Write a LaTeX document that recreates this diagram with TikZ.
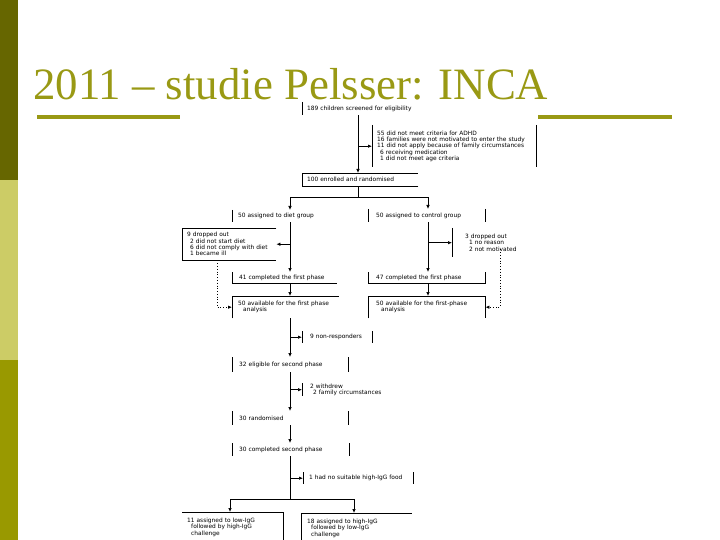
\documentclass[tikz,border=0pt]{standalone}
\usepackage{fontspec}
\setmainfont{Liberation Serif}
\newfontfamily\flowsans{DejaVu Sans}
\usetikzlibrary{arrows.meta}
\definecolor{olivedark}{RGB}{102,102,0}
\definecolor{olivelight}{RGB}{204,204,102}
\definecolor{olivemid}{RGB}{153,153,0}
\definecolor{titleolive}{RGB}{153,153,20}
\newcommand{\flowfont}{\flowsans\fontsize{5.9}{6.3}\selectfont}
\tikzset{
  fbox/.style={inner xsep=5bp, inner ysep=0pt, anchor=north west, align=left, font=\flowfont},
  bd/.style={line width=0.8bp, black},
  arr/.style={line width=0.7bp, black, -{Latex[length=4bp,width=3.5bp]}},
  dotarr/.style={line width=0.8bp, black, dotted, -{Latex[length=4bp,width=3.5bp]}},
}
\begin{document}
\begin{tikzpicture}[x=1bp,y=-1bp]
\useasboundingbox (0,0) rectangle (720,540);
% side bar
\fill[olivedark] (0,0) rectangle (18,180);
\fill[olivelight] (0,180) rectangle (18,360);
\fill[olivemid] (0,360) rectangle (18,540);
% title
\node[anchor=base west, inner sep=0pt, text depth=0pt, text=titleolive, font=\fontsize{45}{48}\selectfont] (title) at (33,100) {2011 -- studie Pelsser: INCA};
\draw[titleolive, line width=3.5bp] (37,117) -- (180,117);
\draw[titleolive, line width=3.5bp] (538,117) -- (672,117);

% trunk coordinates
\coordinate (tM) at (358,0);
\coordinate (tL) at (290,0);
\coordinate (tR) at (428,0);
\coordinate (dL) at (217,0);
\coordinate (dR) at (500,0);
\coordinate (bL) at (230,0);
\coordinate (bR) at (354,0);
\coordinate (s1) at (0,197);
\coordinate (s2) at (0,499);

% boxes
\node[fbox, text width=108bp, minimum height=13bp] (A) at (302,102) {189 children screened for eligibility};
\node[fbox, text width=154bp, minimum height=42bp] (B) at (372,125) {55 did not meet criteria for ADHD\\16 families were not motivated to enter the study\\11 did not apply because of family circumstances\\\hspace*{3bp}6 receiving medication\\\hspace*{3bp}1 did not meet age criteria};
\node[fbox, text width=106bp, minimum height=13bp] (C) at (302,173) {100 enrolled and randomised};
\node[fbox, inner xsep=6bp, text width=104bp, minimum height=12bp] (D) at (232,210) {50 assigned to diet group};
\node[fbox, inner xsep=8bp, text width=101bp, minimum height=13bp] (E) at (368,209) {50 assigned to control group};
\node[fbox, text width=84bp, minimum height=32bp] (F) at (182,228) {9 dropped out\\\hspace*{3bp}2 did not start diet\\\hspace*{3bp}6 did not comply with diet\\\hspace*{3bp}1 became ill};
\node[fbox, inner xsep=13bp, text width=56bp, minimum height=29bp] (G) at (452,228) {3 dropped out\\\hspace*{4bp}1 no reason\\\hspace*{4bp}2 not motivated};
\node[fbox, inner xsep=7bp, text width=91bp, minimum height=11bp] (H) at (232,272) {41 completed the first phase};
\node[fbox, inner xsep=8bp, text width=101bp, minimum height=11bp] (I) at (368,272) {47 completed the first phase};
\node[fbox, inner xsep=6bp, text width=95bp, minimum height=22bp] (J) at (232,296) {50 available for the first phase\\\hspace*{5bp}analysis};
\node[fbox, inner xsep=8bp, text width=101bp, minimum height=22bp] (K) at (368,296) {50 available for the first-phase\\\hspace*{5bp}analysis};
\node[fbox, inner xsep=8bp, text width=54bp, minimum height=12bp] (L) at (302,331) {9 non-responders};
\node[fbox, inner xsep=7bp, text width=102bp, minimum height=15bp] (M) at (232,357) {32 eligible for second phase};
\node[fbox, inner xsep=8bp, text width=84bp, minimum height=13bp] (N) at (302,383) {2 withdrew\\\hspace*{3bp}2 family circumstances};
\node[fbox, inner xsep=7bp, text width=102bp, minimum height=14bp] (O) at (232,411) {30 randomised};
\node[fbox, inner xsep=7bp, text width=103bp, minimum height=13bp] (P) at (232,443) {30 completed second phase};
\node[fbox, inner xsep=6bp, text width=98bp, minimum height=12bp] (Q) at (303,472) {1 had no suitable high-IgG food};
\node[fbox, text width=91bp, minimum height=30bp] (R) at (182,512) {11 assigned to low-IgG\\\hspace*{4bp}followed by high-IgG\\\hspace*{4bp}challenge};
\node[fbox, inner xsep=6bp, text width=99bp, minimum height=30bp] (S) at (301,513) {18 assigned to high-IgG\\\hspace*{4bp}followed by low-IgG\\\hspace*{4bp}challenge};

% visible borders
\draw[bd] (A.north west) -- (A.south west);
\draw[bd] (B.north west) -- (B.south west);
\draw[bd] (B.north east) -- (B.south east);
\draw[bd] (C.south east) -- (C.south west) -- (C.north west) -- (C.north east);
\draw[bd] (D.north west) -- (D.south west);
\draw[bd] (E.north west) -- (E.south west);
\draw[bd] (E.north east) -- (E.south east);
\draw[bd] (F.north east) -- (F.north west) -- (F.south west) -- (F.south east);
\draw[bd] (G.north west) -- (G.south west);
\draw[bd] (H.north west) -- (H.south west) -- (H.south east);
\draw[bd] (I.north west) -- (I.south west) -- (I.south east) -- (I.north east);
\draw[bd] (J.south west) -- (J.north west) -- (J.north east);
\draw[bd] (K.south west) -- (K.north west) -- (K.north east) -- (K.south east);
\draw[bd] (L.north west) -- (L.south west);
\draw[bd] (L.north east) -- (L.south east);
\draw[bd] (M.north west) -- (M.south west);
\draw[bd] (M.north east) -- (M.south east);
\draw[bd] (N.north west) -- (N.south west);
\draw[bd] (O.north west) -- (O.south west);
\draw[bd] (O.north east) -- (O.south east);
\draw[bd] (P.north west) -- (P.south west);
\draw[bd] (P.north east) -- (P.south east);
\draw[bd] (Q.north west) -- (Q.south west);
\draw[bd] (Q.north east) -- (Q.south east);
\draw[bd] (R.north west) -- (R.north east) -- (R.south east);
\draw[bd] (S.south west) -- (S.north west) -- (S.north east);

% connectors
\draw[arr] (A.south -| tM) -- (C.north -| tM);
\draw[arr] (tM |- B.west) -- (B.west);
\draw[arr] (C.south -| tM) -- (tM |- s1) -| (D.north -| tL);
\draw[arr] (tM |- s1) -| (E.north -| tR);
\draw[arr] (D.south -| tL) -- (H.north -| tL);
\draw[arr] (tL |- F.east) -- (F.east);
\draw[arr] (H.south -| tL) -- (J.north -| tL);
\draw[arr] (E.south -| tR) -- (I.north -| tR);
\draw[arr] (tR |- G.west) -- (G.west);
\draw[arr] (I.south -| tR) -- (K.north -| tR);
\draw[dotarr] (F.south -| dL) |- (J.west);
\draw[dotarr] ([yshift=8bp]G.south -| dR) |- (K.east);
\draw[arr] (J.south -| tL) -- (M.north -| tL);
\draw[arr] (tL |- L.west) -- (L.west);
\draw[arr] (M.south -| tL) -- (O.north -| tL);
\draw[arr] (tL |- N.west) -- (N.west);
\draw[arr] (O.south -| tL) -- (P.north -| tL);
\draw[arr] (tL |- Q.west) -- (Q.west);
\draw[arr] (P.south -| tL) -- (tL |- s2) -| (R.north -| bL);
\draw[arr] (tL |- s2) -| (S.north -| bR);
\end{tikzpicture}
\end{document}
